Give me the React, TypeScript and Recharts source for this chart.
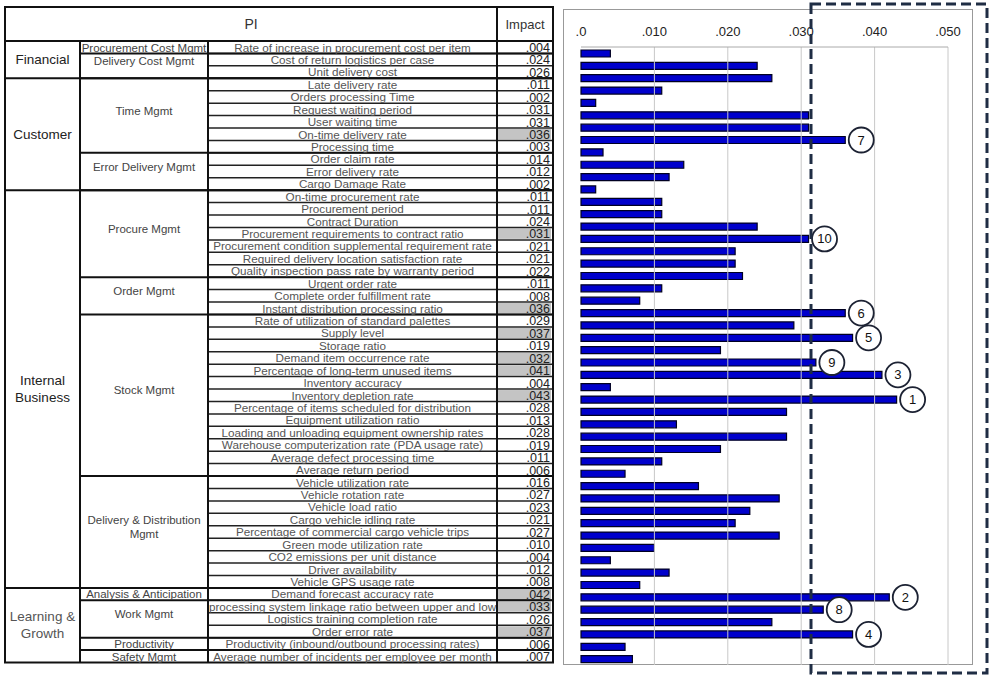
import { BarChart, Bar, XAxis, YAxis, ReferenceLine, LabelList } from 'recharts';

// Perspectives (first column) and how many indicator rows each spans
const perspectives = ['Financial', 'Customer', 'Internal\nBusiness', 'Learning &\nGrowth'];
const perspectiveRows = [3, 9, 32, 6];

// Management areas (second column)
const areas = [
  'Procurement Cost Mgmt',
  'Delivery Cost Mgmt',
  'Time Mgmt',
  'Error Delivery Mgmt',
  'Procure Mgmt',
  'Order Mgmt',
  'Stock Mgmt',
  'Delivery & Distribution\nMgmt',
  'Analysis & Anticipation',
  'Work Mgmt',
  'Productivity',
  'Safety Mgmt',
];
const areaRows = [1, 2, 6, 3, 7, 3, 13, 9, 1, 3, 1, 1];

// Performance indicators
const indicators = [
  'Rate of increase in procurement cost per item',
  'Cost of return logistics per case',
  'Unit delivery cost',
  'Late delivery rate',
  'Orders processing Time',
  'Request waiting period',
  'User waiting time',
  'On-time delivery rate',
  'Processing time',
  'Order claim rate',
  'Error delivery rate',
  'Cargo Damage Rate',
  'On-time procurement rate',
  'Procurement period',
  'Contract Duration',
  'Procurement requirements to contract ratio',
  'Procurement condition supplemental requirement rate',
  'Required delivery location satisfaction rate',
  'Quality inspection pass rate by warranty period',
  'Urgent order rate',
  'Complete order fulfillment rate',
  'Instant distribution processing ratio',
  'Rate of utilization of standard palettes',
  'Supply level',
  'Storage ratio',
  'Demand item occurrence rate',
  'Percentage of long-term unused items',
  'Inventory accuracy',
  'Inventory depletion rate',
  'Percentage of items scheduled for distribution',
  'Equipment utilization ratio',
  'Loading and unloading equipment ownership rates',
  'Warehouse computerization rate (PDA usage rate)',
  'Average defect processing time',
  'Average return period',
  'Vehicle utilization rate',
  'Vehicle rotation rate',
  'Vehicle load ratio',
  'Cargo vehicle idling rate',
  'Percentage of commercial cargo vehicle trips',
  'Green mode utilization rate',
  'CO2 emissions per unit distance',
  'Driver availability',
  'Vehicle GPS usage rate',
  'Demand forecast accuracy rate',
  'processing system linkage ratio between upper and low',
  'Logistics training completion rate',
  'Order error rate',
  'Productivity (inbound/outbound processing rates)',
  'Average number of incidents per employee per month',
];

const impact = [
  0.004, 0.024, 0.026, 0.011, 0.002, 0.031, 0.031, 0.036, 0.003, 0.014,
  0.012, 0.002, 0.011, 0.011, 0.024, 0.031, 0.021, 0.021, 0.022, 0.011,
  0.008, 0.036, 0.029, 0.037, 0.019, 0.032, 0.041, 0.004, 0.043, 0.028,
  0.013, 0.028, 0.019, 0.011, 0.006, 0.016, 0.027, 0.023, 0.021, 0.027,
  0.010, 0.004, 0.012, 0.008, 0.042, 0.033, 0.026, 0.037, 0.006, 0.007,
];

// top-10 ranking (0 = not ranked)
const rank = [
  0, 0, 0, 0, 0, 0, 0, 7, 0, 0,
  0, 0, 0, 0, 0, 10, 0, 0, 0, 0,
  0, 6, 0, 5, 0, 9, 3, 0, 1, 0,
  0, 0, 0, 0, 0, 0, 0, 0, 0, 0,
  0, 0, 0, 0, 2, 8, 0, 4, 0, 0,
];

const axisTicks = [0, 0.01, 0.02, 0.03, 0.04, 0.05];

const data = indicators.map((name, i) => ({ name, impact: impact[i], rank: rank[i] }));

const fmt = (v: number) => (v === 0 ? '.0' : v.toFixed(3).replace(/^0/, ''));

const FONT = '"Liberation Sans", Arial, sans-serif';

// table geometry
const TOP = 7;
const ROW_TOP = 41;
const ROW_H = 12.43;
const COLS = [5, 80, 208, 497, 553];
const rowY = (i: number) => ROW_TOP + i * ROW_H;
const BOTTOM = rowY(indicators.length);

const cumulative = (arr: number[]) => {
  const out: number[] = [];
  let s = 0;
  arr.forEach((n) => {
    out.push(s);
    s += n;
  });
  return out;
};

const MultiText = ({ x, cy, text, size, fill }: { x: number; cy: number; text: string; size: number; fill: string }) => {
  const lines = text.split('\n');
  const lh = size * 1.25;
  const y0 = cy - ((lines.length - 1) * lh) / 2 + size * 0.35;
  return (
    <text x={x} y={y0} textAnchor="middle" fontSize={size} fill={fill} fontFamily={FONT}>
      {lines.map((l, k) => (
        <tspan key={k} x={x} dy={k === 0 ? 0 : lh}>
          {l}
        </tspan>
      ))}
    </text>
  );
};

const Table = () => {
  const pStart = cumulative(perspectiveRows);
  const aStart = cumulative(areaRows);
  return (
    <svg width={994} height={683} style={{ position: 'absolute', left: 0, top: 0 }}>
      <defs>
        <clipPath id="piClip">
          <rect x={COLS[2] + 1} y={0} width={COLS[3] - COLS[2] - 2} height={683} />
        </clipPath>
      </defs>
      {/* highlighted impact cells */}
      {rank.map((r, i) =>
        r ? <rect key={`hl-${i}`} x={COLS[3] + 1} y={rowY(i) + 1} width={COLS[4] - COLS[3] - 3} height={ROW_H - 2} fill="#c4c4c4" /> : null
      )}

      {/* header */}
      <text x={(COLS[0] + COLS[3]) / 2} y={29} textAnchor="middle" fontSize={14} fill="#333" fontFamily={FONT}>
        PI
      </text>
      <text x={(COLS[3] + COLS[4]) / 2} y={29} textAnchor="middle" fontSize={13} fill="#333" fontFamily={FONT}>
        Impact
      </text>

      {/* row lines */}
      {indicators.map((_, i) => (
        <line key={`rl-${i}`} x1={COLS[2]} x2={COLS[4]} y1={rowY(i)} y2={rowY(i)} stroke="#222" strokeWidth={1.5} />
      ))}
      {aStart.map((s, i) => (
        <line key={`al-${i}`} x1={COLS[1]} x2={COLS[4]} y1={rowY(s)} y2={rowY(s)} stroke="#111" strokeWidth={2} />
      ))}
      {pStart.map((s, i) => (
        <line key={`pl-${i}`} x1={COLS[0]} x2={COLS[4]} y1={rowY(s)} y2={rowY(s)} stroke="#111" strokeWidth={2} />
      ))}
      <line x1={COLS[1]} x2={COLS[1]} y1={ROW_TOP} y2={BOTTOM} stroke="#111" strokeWidth={2} />
      <line x1={COLS[2]} x2={COLS[2]} y1={ROW_TOP} y2={BOTTOM} stroke="#111" strokeWidth={2} />
      <line x1={COLS[3]} x2={COLS[3]} y1={TOP} y2={BOTTOM} stroke="#111" strokeWidth={2} />
      <rect x={COLS[0]} y={TOP} width={COLS[4] - COLS[0]} height={BOTTOM - TOP} fill="none" stroke="#111" strokeWidth={2} />

      {/* perspectives */}
      {perspectives.map((p, i) => (
        <MultiText
          key={`p-${i}`}
          x={(COLS[0] + COLS[1]) / 2}
          cy={(rowY(pStart[i]) + rowY(pStart[i] + perspectiveRows[i])) / 2}
          text={p}
          size={13.5}
          fill={i === 3 ? '#555' : '#222'}
        />
      ))}

      {/* areas */}
      {areas.map((a, i) =>
        areaRows[i] === 1 ? (
          <text
            key={`a-${i}`}
            x={(COLS[1] + COLS[2]) / 2}
            y={rowY(aStart[i]) + 10.5}
            textAnchor="middle"
            fontSize={11.5}
            fill="#444"
            fontFamily={FONT}
          >
            {a}
          </text>
        ) : (
          <MultiText
            key={`a-${i}`}
            x={(COLS[1] + COLS[2]) / 2}
            cy={(rowY(aStart[i]) + rowY(aStart[i] + areaRows[i])) / 2 - 5}
            text={a}
            size={11.5}
            fill="#444"
          />
        )
      )}

      {/* indicators + impact */}
      {indicators.map((t, i) => (
        <g key={`t-${i}`}>
          <text
            x={(COLS[2] + COLS[3]) / 2}
            y={rowY(i) + 10.5}
            textAnchor="middle"
            fontSize={11.7}
            fill="#555"
            fontFamily={FONT}
            clipPath="url(#piClip)"
          >
            {t}
          </text>
          <text x={COLS[4] - 3} y={rowY(i) + 11} textAnchor="end" fontSize={12.5} fill="#222" fontFamily={FONT}>
            {fmt(impact[i])}
          </text>
        </g>
      ))}
    </svg>
  );
};

const RankLabel = (props: any) => {
  const { x, y, width, height, value } = props;
  if (!value) return null;
  const cx = x + width + 16;
  const cy = y + height / 2;
  return (
    <g>
      <circle cx={cx} cy={cy} r={12.5} fill="#fff" stroke="#1c2233" strokeWidth={1.8} />
      <text x={cx} y={cy + 4.5} textAnchor="middle" fontSize={13} fill="#111" fontFamily={FONT}>
        {value}
      </text>
    </g>
  );
};

export default function App() {
  return (
    <div style={{ position: 'absolute', left: 0, top: 0, width: 994, height: 683, background: '#fff', overflow: 'hidden' }}>
      <Table />
      <div style={{ position: 'absolute', left: 563, top: 9, width: 410, height: 656, border: '1px solid #999', boxSizing: 'border-box' }} />
      <div style={{ position: 'absolute', left: 563, top: 9 }}>
        <BarChart
          width={410}
          height={656}
          data={data}
          layout="vertical"
          margin={{ top: 8, right: 25, left: 18, bottom: 0 }}
          barCategoryGap={0}
        >
          <XAxis
            type="number"
            orientation="top"
            domain={[0, 0.05]}
            ticks={axisTicks}
            tickFormatter={fmt}
            axisLine={{ stroke: '#aaa' }}
            tickLine={false}
            tick={{ fill: '#222', fontSize: 13, fontFamily: FONT, dy: -3 }}
            height={30}
            interval={0}
          />
          <YAxis type="category" dataKey="name" hide />
          {axisTicks.slice(1).map((t) => (
            <ReferenceLine key={t} x={t} stroke="#c8c8c8" />
          ))}
          <Bar dataKey="impact" barSize={7} fill="#0000cc" stroke="#000022" strokeWidth={1.2} isAnimationActive={false}>
            <LabelList dataKey="rank" content={RankLabel} />
          </Bar>
        </BarChart>
      </div>
      <svg width={994} height={683} style={{ position: 'absolute', left: 0, top: 0, pointerEvents: 'none' }}>
        <rect x={811} y={4} width={176} height={669} fill="none" stroke="#1f2d44" strokeWidth={3} strokeDasharray="10 5" />
      </svg>
    </div>
  );
}
